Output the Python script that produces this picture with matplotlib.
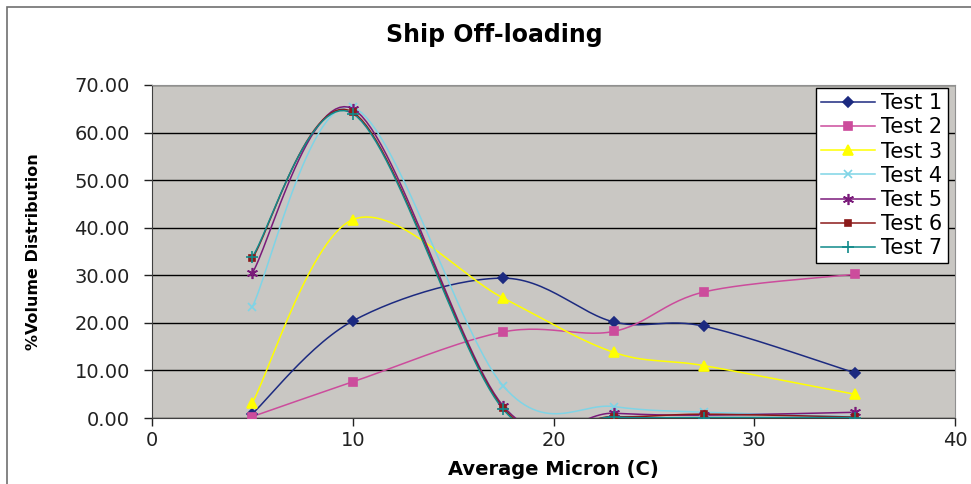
import numpy as np
import matplotlib
matplotlib.use("Agg")
import matplotlib.pyplot as plt
from matplotlib.patches import Rectangle

plt.rcParams['font.family'] = ['DejaVu Sans']

# data
micron = [5, 10, 17.5, 23, 27.5, 35]
test1 = [0.9, 20.4, 29.4, 20.2, 19.3, 9.5]
test2 = [0.3, 7.6, 18.1, 18.2, 26.5, 30.2]
test3 = [3.2, 41.7, 25.2, 13.8, 11.0, 5.0]
test4 = [23.4, 65.3, 6.7, 2.4, 1.2, 0.3]
test5 = [30.5, 65.0, 2.5, 1.0, 0.6, 1.2]
test6 = [33.6, 64.3, 2.1, 0.3, 0.8, 0.2]
test7 = [33.9, 64.0, 1.8, 0.2, 0.1, 0.1]

series = [
    ("Test 1", test1, "#1c2a80", "D", 5),
    ("Test 2", test2, "#cc4c9c", "s", 6),
    ("Test 3", test3, "#ffff00", "^", 7),
    ("Test 4", test4, "#7fd4e6", "x", 6),
    ("Test 5", test5, "#7a1a7a", (6, 2, 0), 8),
    ("Test 6", test6, "#8b1a1a", "s", 5),
    ("Test 7", test7, "#108a8a", "+", 8),
]


def smooth(xs, ys, n=30):
    # Excel-like smoothing: cubic Bezier, tangent = (next - prev) / 6
    p = np.column_stack([xs, ys]).astype(float)
    ext = np.vstack([p[0], p, p[-1]])
    out = []
    t = np.linspace(0, 1, n)[:, None]
    for i in range(len(p) - 1):
        p0 = ext[i + 1]
        p3 = ext[i + 2]
        c1 = p0 + (ext[i + 2] - ext[i]) / 6
        c2 = p3 - (ext[i + 3] - ext[i + 1]) / 6
        seg = ((1 - t) ** 3) * p0 + 3 * ((1 - t) ** 2) * t * c1 + 3 * (1 - t) * t ** 2 * c2 + t ** 3 * p3
        out.append(seg)
    out = np.vstack(out)
    return out[:, 0], out[:, 1]


fig = plt.figure(figsize=(9.71, 4.84), dpi=100)
# outer chart border (top and left visible)
fig.patches.append(Rectangle((7 / 971, -0.1), 1.2, 1.1 - 7 / 484,
                             transform=fig.transFigure, fill=False,
                             edgecolor="#707070", linewidth=1.2))
ax = fig.add_axes([152 / 971, (484 - 418) / 484, (955 - 152) / 971, (418 - 85) / 484])
ax.set_facecolor("#c9c7c3")

for name, vals, col, mk, ms in series:
    sx, sy = smooth(micron, vals)
    ax.plot(sx, sy, color=col, linewidth=1.1, zorder=3)
    ax.plot(micron, vals, linestyle="none", marker=mk, markersize=ms, color=col,
            markeredgecolor=col, markeredgewidth=1.2, zorder=4)
    ax.plot([], [], color=col, linewidth=1.1, marker=mk, markersize=ms,
            markeredgewidth=1.2, label=name)

ax.set_xlim(0, 40)
ax.set_ylim(0, 70)
ax.set_xticks([0, 10, 20, 30, 40])
ax.set_yticks(np.arange(0, 71, 10))
ax.set_yticklabels([f"{v:.2f}" for v in np.arange(0, 71, 10)])
ax.yaxis.grid(True, color="black", linewidth=1.0)
ax.set_axisbelow(True)
ax.tick_params(direction="out", length=6, width=1, labelsize=14, colors="#222222")
ax.tick_params(axis="y", pad=10)
for s in ["top", "right"]:
    ax.spines[s].set_color("#909090")
for s in ["left", "bottom"]:
    ax.spines[s].set_color("#404040")

fig.text(494 / 971, 1 - 35 / 484, "Ship Off-loading", fontsize=17, fontweight="bold",
         ha="center", va="center")
ax.set_xlabel("Average Micron (C)", fontsize=14, fontweight="bold", labelpad=7)
ax.set_ylabel("%Volume Distribution", fontsize=11.5, fontweight="bold", labelpad=24)

leg = ax.legend(loc="upper right", bbox_to_anchor=(0.991, 0.991), borderaxespad=0,
                fontsize=15, frameon=True, fancybox=False, edgecolor="black",
                framealpha=1, handlelength=2.6, labelspacing=0.2, borderpad=0.25,
                handletextpad=0.3)
leg.get_frame().set_linewidth(1.0)

fig.savefig("out.png", dpi=100)
